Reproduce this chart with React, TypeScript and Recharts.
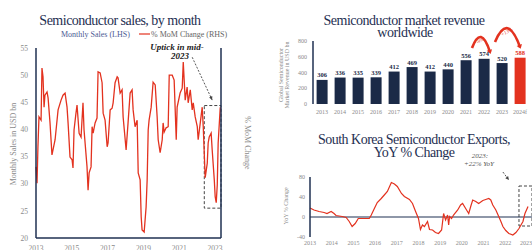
import React from "react";
import {
  LineChart,
  Line,
  BarChart,
  Bar,
  Cell,
  LabelList,
  XAxis,
  YAxis,
  ReferenceLine,
  ReferenceArea,
} from "recharts";

const SERIF = '"Liberation Serif", "Times New Roman", serif';
const NAVY = "#1f3052";
const BAR_NAVY = "#1b2a47";
const RED = "#e3321f";
const GREY = "#8a8a8a";
const DASH = "#444";

// --- Semiconductor sales, by month (month index from Jan 2013, USD bn)
const salesMonth = [
  0, 0.7, 1.3, 2, 3.4, 4, 4.7, 5.4, 6, 7.4,
  8.1, 9.4, 10.7, 12.8, 14.8, 16.8, 18.1, 19.5, 20.8, 21.5,
  22.8, 24.2, 24.8, 25.5, 26.8, 27.5, 28.9, 30.2, 31.5, 32.2,
  34.2, 34.9, 35.6, 36.9, 37.6, 38.3, 39.6, 40.9, 41.6, 43,
  44.3, 45, 46.3, 47.7, 48.3, 49.7, 51, 51.7, 53, 54.4,
  55, 56.4, 57.7, 58.4, 60.4, 61.7, 63.1, 64.4, 65.1, 66.4,
  67.8, 68.5, 69.8, 70.5, 71.1, 72.5, 73.8, 74.5, 75.2, 75.8,
  77.2, 78.5, 79.9, 81.2, 81.9, 83.2, 84.6, 85.2, 85.9, 87.2,
  88.6, 89.3, 91.3, 92.6, 94, 94.6, 96.6, 98, 98.7, 100,
  101.3, 102, 103.4, 104.7, 105.4, 106.7, 108.1, 108.7, 110.1, 111.4,
  112.1, 113.4, 114.8, 115.4, 116.1, 117.4, 118.1, 119.5, 120.1, 120.8,
  121.5, 122.1, 123.5,
];
const salesValue = [
  33.1, 30.1, 36.8, 42.3, 41.7, 51.3, 49.7, 44.1, 46.3, 46.9,
  45.8, 41.2, 35.3, 38.1, 43.6, 45.4, 46.3, 46.7, 44.1, 41.2,
  34.9, 34.4, 32.9, 39.9, 43.0, 44.5, 39.3, 38.6, 44.9, 39.9,
  33.1, 28.8, 32.0, 33.1, 40.5, 39.3, 41.2, 42.1, 50.6, 50.4,
  48.6, 43.0, 41.7, 36.8, 37.5, 43.6, 43.9, 44.9, 48.6, 49.7,
  49.5, 46.7, 47.3, 42.3, 36.2, 41.2, 46.7, 47.3, 43.6, 40.5,
  41.7, 32.0, 30.7, 23.9, 21.5, 21.1, 25.7, 30.7, 39.9, 41.7,
  44.1, 48.7, 48.2, 42.3, 38.1, 35.7, 38.1, 41.2, 39.5, 40.3,
  40.5, 50.0, 50.0, 49.1, 38.1, 44.1, 46.7, 47.6, 52.4, 45.4,
  47.8, 44.9, 47.3, 43.6, 44.9, 42.3, 40.5, 38.1, 41.2, 44.1,
  40.5, 31.1, 33.8, 37.5, 38.6, 39.3, 36.2, 30.7, 27.6, 26.5,
  29.8, 37.5, 44.1,
];
const salesTicks = [20, 25, 30, 35, 40, 45, 50, 55];
const momTicks = [-8, -6, -4, -2, 0, 2, 4, 6];
const salesYearTicks = [0, 24, 48, 72, 96, 120];

// --- Semiconductor market revenue worldwide (USD bn)
const revYears = ["2013", "2014", "2015", "2016", "2017", "2018", "2019", "2020", "2021", "2022", "2023", "2024f"];
const revValues = [306, 336, 335, 339, 412, 469, 412, 440, 556, 574, 520, 588];
const revTicks = [0, 200, 400, 600, 800];

// --- South Korea semiconductor exports, YoY % (month index from Jan 2013)
const korMonth = [
  0, 2.2, 5, 7.8, 9.4, 11.7, 13.3, 14.4, 17.8, 20,
  21.7, 23.3, 25, 26.7, 30, 32.8, 33.9, 35.6, 37.2, 39.4,
  41.1, 42.8, 45, 46.7, 48.3, 50.6, 52.2, 55, 56.7, 58.3,
  60, 61.1, 62.2, 63.3, 65, 66.1, 67.8, 69.4, 71.1, 72.8,
  73.9, 75, 76.1, 76.7, 77.2, 78.3, 79.4, 81.7, 83.3, 84.4,
  86.1, 87.8, 88.9, 90, 91.7, 93.3, 95.6, 97.2, 98.9, 100,
  101.1, 102.8, 104.4, 105.6, 106.7, 108.3, 110, 112.2, 113.9, 115.6,
  117.8, 118.9, 120.6,
];
const korValue = [
  18, 14, 11, 9, 7, 11, 7, 3, 1, -1,
  -9, -19, -13, -3, -3, -3, 4, 17, 29, 37,
  44, 51, 69, 66, 61, 47, 41, 35, 27, 12,
  -3, -25, -16, -19, -9, -25, -26, -31, -33, -26,
  7, -6, 4, -16, 1, -3, 4, 14, 24, 27,
  17, 7, 21, 34, 31, 27, 33, 35, 37, 34,
  24, 14, 1, -9, -19, -27, -33, -36, -31, -23,
  -9, 7, 21,
];
const korTicks = [-40, -20, 0, 20, 40, 60, 80];
const korYearTicks = [0, 12, 24, 36, 48, 60, 72, 84, 96, 108, 120];

const salesData = salesMonth.map((m, i) => ({ m, v: salesValue[i] }));
const revData = revYears.map((year, i) => ({ year, rev: revValues[i] }));
const korData = korMonth.map((m, i) => ({ m, v: korValue[i] }));

const yearOf = (m: number) => String(2013 + Math.round(m / 12));

const tickA = { fontSize: 7.5, fill: GREY, fontFamily: SERIF };
const tickSmall = { fontSize: 6, fill: GREY, fontFamily: SERIF };

// straight dashed pointer with a small head
const dashedArrow = (p: any) => {
  const { x1, y1, x2, y2 } = p;
  const a = Math.atan2(y2 - y1, x2 - x1);
  const s = 4;
  const pts = [
    [x2, y2],
    [x2 - s * Math.cos(a - 0.45), y2 - s * Math.sin(a - 0.45)],
    [x2 - s * Math.cos(a + 0.45), y2 - s * Math.sin(a + 0.45)],
  ]
    .map((q) => q.join(","))
    .join(" ");
  return (
    <g>
      <line x1={x1} y1={y1} x2={x2} y2={y2} stroke={DASH} strokeWidth={0.9} strokeDasharray="2 1.5" />
      <polygon points={pts} fill={DASH} />
    </g>
  );
};

// red curved growth arrow between two bars
const curvedArrow = (dx1: number, dx2: number, lift: number, label: string) => (p: any) => {
  const x1 = p.x1 + dx1;
  const x2 = p.x2 + dx2;
  const { y1, y2 } = p;
  const cx = (x1 + x2) / 2;
  const cy = Math.min(y1, y2) - lift;
  const a = Math.atan2(y2 - cy, x2 - cx);
  const s = 5;
  const tx = x2 + 2 * Math.cos(a);
  const ty = y2 + 2 * Math.sin(a);
  const pts = [
    [tx, ty],
    [tx - s * Math.cos(a - 0.6), ty - s * Math.sin(a - 0.6)],
    [tx - s * Math.cos(a + 0.6), ty - s * Math.sin(a + 0.6)],
  ]
    .map((q) => q.join(","))
    .join(" ");
  const mx = 0.25 * x1 + 0.5 * cx + 0.25 * x2;
  const my = 0.25 * y1 + 0.5 * cy + 0.25 * y2 + 5;
  return (
    <g>
      <path d={`M${x1},${y1} Q${cx},${cy} ${x2},${y2}`} stroke={RED} strokeWidth={2.6} fill="none" />
      <polygon points={pts} fill={RED} />
      <text
        x={mx}
        y={my}
        transform={`rotate(-30 ${mx} ${my})`}
        textAnchor="middle"
        fontSize={5}
        fontStyle="italic"
        fill={RED}
        fontFamily={SERIF}
      >
        {label}
      </text>
    </g>
  );
};

const revLabel = (props: any) => {
  const { x, y, width, value, index } = props;
  const last = index === revValues.length - 1;
  return (
    <text
      x={x + width / 2}
      y={y - 2.5}
      textAnchor="middle"
      fontSize={6.5}
      fontWeight="bold"
      fill={last ? RED : BAR_NAVY}
      fontFamily={SERIF}
    >
      {value}
    </text>
  );
};

function SalesChart() {
  return (
    <div style={{ position: "absolute", left: 0, top: 0 }}>
      <LineChart width={270} height={262} data={salesData} margin={{ top: 48, right: 0, bottom: 4, left: 0 }}>
        <XAxis
          dataKey="m"
          type="number"
          domain={[0, 124]}
          ticks={salesYearTicks}
          tickFormatter={yearOf}
          axisLine={{ stroke: NAVY, strokeWidth: 1.5 }}
          tickLine={false}
          tick={tickA}
          height={20}
        />
        <YAxis
          yAxisId="left"
          domain={[20, 55]}
          ticks={salesTicks}
          width={36}
          axisLine={{ stroke: NAVY, strokeWidth: 1.5 }}
          tickLine={false}
          tick={tickA}
        />
        <YAxis
          yAxisId="right"
          orientation="right"
          domain={[-8, 6]}
          ticks={momTicks}
          tickFormatter={(v) => `${v}%`}
          width={49}
          axisLine={{ stroke: NAVY, strokeWidth: 1.5 }}
          tickLine={false}
          tickSize={4}
          tick={tickA}
        />
        <ReferenceArea
          yAxisId="left"
          x1={112.8}
          x2={124}
          y1={25.5}
          y2={44.4}
          fill="none"
          stroke={DASH}
          strokeWidth={1}
          strokeDasharray="3 2"
          ifOverflow="visible"
        />
        <Line
          yAxisId="left"
          type="linear"
          dataKey="v"
          stroke={RED}
          strokeWidth={1.3}
          dot={false}
          isAnimationActive={false}
        />
        <ReferenceLine
          yAxisId="left"
          segment={[
            { x: 104.7, y: 53.3 },
            { x: 118.1, y: 45.4 },
          ]}
          shape={dashedArrow}
          ifOverflow="visible"
        />
      </LineChart>
    </div>
  );
}

function RevenueChart() {
  return (
    <div style={{ position: "absolute", left: 270, top: 0 }}>
      <BarChart
        width={262}
        height={125}
        data={revData}
        margin={{ top: 41, right: 3, bottom: 0, left: 0 }}
        barCategoryGap="20%"
      >
        <XAxis dataKey="year" axisLine={false} tickLine={false} tickSize={4} tick={tickSmall} height={21} interval={0} />
        <YAxis
          domain={[0, 800]}
          ticks={revTicks}
          width={43}
          axisLine={{ stroke: NAVY, strokeWidth: 1.5 }}
          tickLine={false}
          tickSize={4}
          tick={tickSmall}
        />
        <Bar dataKey="rev" isAnimationActive={false}>
          {revData.map((d, i) => (
            <Cell key={d.year} fill={i === revData.length - 1 ? RED : BAR_NAVY} />
          ))}
          <LabelList dataKey="rev" content={revLabel} />
        </Bar>
        <ReferenceLine
          segment={[
            { x: "2022", y: 711 },
            { x: "2023", y: 660 },
          ]}
          shape={curvedArrow(-12, -12, 24, "-9%")}
          ifOverflow="visible"
        />
        <ReferenceLine
          segment={[
            { x: "2023", y: 787 },
            { x: "2024f", y: 724 },
          ]}
          shape={curvedArrow(-7, 0, 30, "+13%")}
          ifOverflow="visible"
        />
      </BarChart>
    </div>
  );
}

function KoreaChart() {
  return (
    <div style={{ position: "absolute", left: 270, top: 125 }}>
      <LineChart width={262} height={125} data={korData} margin={{ top: 52, right: 0, bottom: 0, left: 0 }}>
        <XAxis
          dataKey="m"
          type="number"
          domain={[0, 122.8]}
          ticks={korYearTicks}
          tickFormatter={yearOf}
          axisLine={false}
          tickLine={false}
          tickSize={2}
          tick={tickSmall}
          height={13}
        />
        <YAxis
          domain={[-40, 80]}
          ticks={korTicks}
          width={40}
          axisLine={{ stroke: NAVY, strokeWidth: 1.5 }}
          tickLine={false}
          tickSize={3}
          tick={tickSmall}
        />
        <ReferenceLine y={0} stroke={NAVY} strokeWidth={1.2} />
        <ReferenceArea
          x1={115.6}
          x2={122.8}
          y1={-18}
          y2={62}
          fill="none"
          stroke={DASH}
          strokeWidth={1}
          strokeDasharray="3 2"
          ifOverflow="visible"
        />
        <Line type="linear" dataKey="v" stroke={RED} strokeWidth={1.2} dot={false} isAnimationActive={false} />
        <ReferenceLine
          segment={[
            { x: 106.7, y: 90 },
            { x: 110, y: 74 },
          ]}
          shape={dashedArrow}
          ifOverflow="visible"
        />
      </LineChart>
    </div>
  );
}

function Texts() {
  const title = { fontSize: 14, letterSpacing: -0.5, fill: NAVY, fontFamily: SERIF, textAnchor: "middle" as const };
  return (
    <svg
      width={532}
      height={250}
      style={{ position: "absolute", left: 0, top: 0, pointerEvents: "none" }}
    >
      {/* left chart */}
      <text x={120} y={25} {...title}>Semiconductor sales, by month</text>
      <text x={61} y={36.5} fontSize={8} fill="#4b5a93" fontFamily={SERIF}>Monthly Sales (LHS)</text>
      <line x1={139} x2={150} y1={34} y2={34} stroke={RED} strokeWidth={1.2} />
      <text x={151} y={36.5} fontSize={8} fill="#666" fontFamily={SERIF}>% MoM Change (RHS)</text>
      <text x={177} y={49.5} fontSize={9} fontWeight="bold" fontStyle="italic" fill="#222" textAnchor="middle" fontFamily={SERIF}>
        Uptick in mid-
      </text>
      <text x={180} y={59} fontSize={9} fontWeight="bold" fontStyle="italic" fill="#222" textAnchor="middle" fontFamily={SERIF}>
        2023
      </text>
      <text transform="translate(15.5,144) rotate(-90)" fontSize={8} fill={GREY} textAnchor="middle" fontFamily={SERIF}>
        Monthly Sales in USD bn
      </text>
      <text transform="translate(245,143) rotate(90)" fontSize={8} fill={GREY} textAnchor="middle" fontFamily={SERIF}>
        % MoM Change
      </text>

      {/* revenue chart */}
      <text x={404} y={25} {...title}>Semiconductor market revenue</text>
      <text x={405} y={37} {...title}>worldwide</text>
      <text transform="translate(283,75) rotate(-90)" fontSize={6} fill={GREY} textAnchor="middle" fontFamily={SERIF}>
        Global Semiconductor
      </text>
      <text transform="translate(289,75) rotate(-90)" fontSize={6} fill={GREY} textAnchor="middle" fontFamily={SERIF}>
        Market Revenue in USD bn
      </text>

      {/* korea chart */}
      <text x={414} y={144} {...title}>South Korea Semiconductor Exports,</text>
      <text x={414} y={157} {...title}>YoY % Change</text>
      <text transform="translate(288,206) rotate(-90)" fontSize={6} fill={GREY} textAnchor="middle" fontFamily={SERIF}>
        YoY % Change
      </text>
      <text x={480} y={158} fontSize={7} fontStyle="italic" fill="#555" textAnchor="middle" fontFamily={SERIF}>
        2023:
      </text>
      <text x={479} y={166} fontSize={7} fontStyle="italic" fill="#555" textAnchor="middle" fontFamily={SERIF}>
        +22% YoY
      </text>
    </svg>
  );
}

export default function App() {
  return (
    <div
      style={{
        position: "fixed",
        left: 0,
        top: 0,
        width: 532,
        height: 250,
        overflow: "hidden",
        background: "#fff",
      }}
    >
      <SalesChart />
      <RevenueChart />
      <KoreaChart />
      <Texts />
    </div>
  );
}
